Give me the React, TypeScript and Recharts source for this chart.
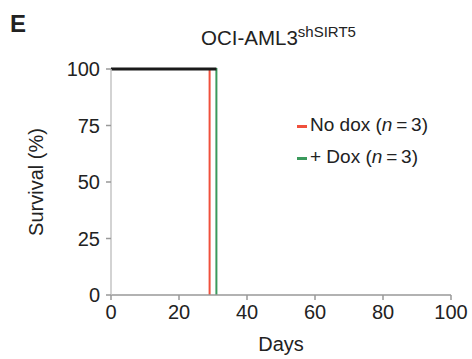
import React from 'react';
import { LineChart, Line, XAxis, YAxis } from 'recharts';

const noDox = [
  { day: 0, survival: 100 },
  { day: 29, survival: 100 },
  { day: 29, survival: 0 },
];
const plusDox = [
  { day: 0, survival: 100 },
  { day: 31, survival: 100 },
  { day: 31, survival: 0 },
];
const topCombined = [
  { day: 0, survival: 100 },
  { day: 31, survival: 100 },
];
const xTicks = [0, 20, 40, 60, 80, 100];
const yTicks = [0, 25, 50, 75, 100];
const seriesNames = ['No dox', '+ Dox'];
const seriesN = [3, 3];

const FONT = 'Liberation Sans, Arial, Helvetica, sans-serif';
const RED = '#f0503c';
const GREEN = '#3a9a5c';

const LegendBox = () => (
  <div
    style={{
      position: 'absolute',
      left: 297,
      top: 109,
      fontFamily: FONT,
      fontSize: 19,
      color: '#222',
    }}
  >
    {seriesNames.map((name, i) => (
      <div key={name} style={{ display: 'flex', alignItems: 'center', height: 32, whiteSpace: 'nowrap' }}>
        <span
          style={{
            display: 'inline-block',
            width: 10,
            height: 3,
            background: i === 0 ? RED : GREEN,
            marginRight: 3,
            marginTop: 2,
          }}
        />
        <span>
          {name} (<i>n</i>{'\u2009=\u2009'}{seriesN[i]})
        </span>
      </div>
    ))}
  </div>
);

export default function App() {
  return (
    <div style={{ position: 'absolute', left: 0, top: 0, width: 472, height: 359, background: '#fff' }}>
      <LineChart
        width={472}
        height={359}
        margin={{ top: 69, right: 21, bottom: 0, left: 0 }}
        style={{ position: 'absolute', left: 0, top: 0 }}
      >
        <XAxis
          dataKey="day"
          type="number"
          domain={[0, 100]}
          ticks={xTicks}
          allowDuplicatedCategory={false}
          axisLine={{ stroke: '#999', strokeWidth: 1.5 }}
          tickLine={{ stroke: '#999', strokeWidth: 1.5 }}
          tickSize={5}
          tick={{ fill: '#222', fontSize: 20, fontFamily: FONT, dy: 3 }}
          label={{ value: 'Days', position: 'insideBottom', offset: 8, fill: '#222', fontSize: 20, fontFamily: FONT }}
          height={64}
        />
        <YAxis
          dataKey="survival"
          type="number"
          domain={[0, 100]}
          ticks={yTicks}
          width={111}
          axisLine={{ stroke: '#c4c4c4', strokeWidth: 1.5 }}
          tickLine={{ stroke: '#999', strokeWidth: 1.5 }}
          tickSize={5}
          tick={{ fill: '#222', fontSize: 20, fontFamily: FONT, dx: -4 }}
          label={{
            value: 'Survival (%)',
            angle: -90,
            position: 'insideLeft',
            offset: 36,
            style: { textAnchor: 'middle' },
            fill: '#222',
            fontSize: 20,
            fontFamily: FONT,
          }}
        />
        <Line data={noDox} dataKey="survival" stroke={RED} strokeWidth={2} dot={false} isAnimationActive={false} />
        <Line data={plusDox} dataKey="survival" stroke={GREEN} strokeWidth={2} dot={false} isAnimationActive={false} />
        <Line data={topCombined} dataKey="survival" stroke="#1a1a1a" strokeWidth={3} dot={false} isAnimationActive={false} legendType="none" />
      </LineChart>
      <div
        style={{
          position: 'absolute',
          left: 10,
          top: 10,
          fontFamily: FONT,
          fontWeight: 'bold',
          fontSize: 24,
          lineHeight: 1.15,
          color: '#222',
        }}
      >
        E
      </div>
      <div
        style={{
          position: 'absolute',
          left: 0,
          width: 557,
          top: 26,
          textAlign: 'center',
          fontFamily: FONT,
          fontSize: 20.5,
          lineHeight: 1.15,
          color: '#222',
          whiteSpace: 'nowrap',
        }}
      >
        OCI-AML3<sup style={{ fontSize: 15, verticalAlign: 'super', lineHeight: 0 }}>shSIRT5</sup>
      </div>
      <LegendBox />
    </div>
  );
}
